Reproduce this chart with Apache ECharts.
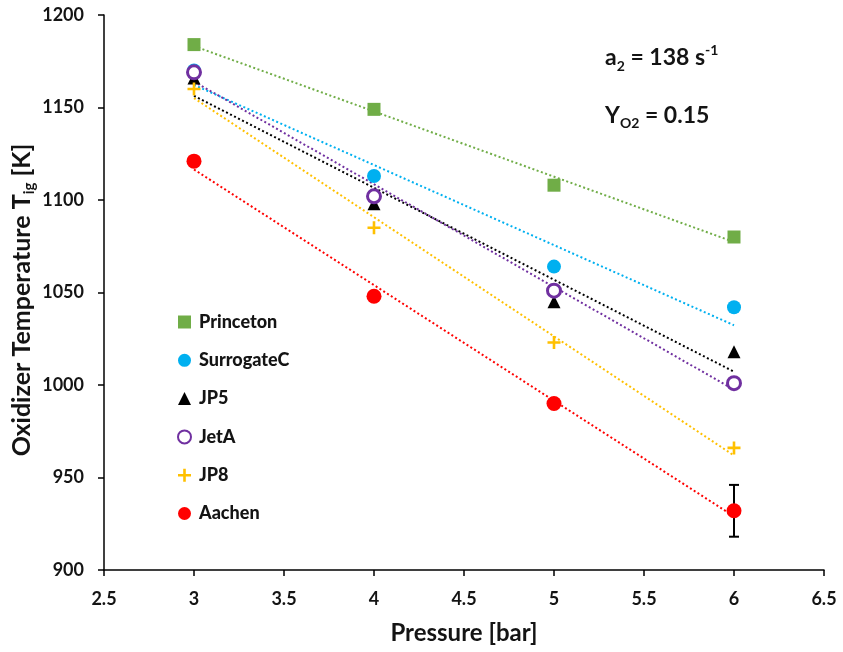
<!DOCTYPE html>
<html><head><meta charset="utf-8">
<script src="https://cdn.jsdelivr.net/npm/echarts@6/dist/echarts.min.js"></script>
<style>html,body{margin:0;padding:0;background:#fff}#c{width:843px;height:652px}</style>
</head><body><div id="c"></div>
<script>
var pressure = [3, 4, 5, 6];
var princeton = [1184, 1149, 1108, 1080];
var surrogateC = [1170, 1113, 1064, 1042];
var jp5 = [1166, 1098, 1045, 1018];
var jetA = [1169, 1102, 1051, 1001];
var jp8 = [1160, 1085, 1023, 966];
var aachen = [1121, 1048, 990, 932];
var aachenErr = [0, 0, 0, 14];
var xTicks = {min: 2.5, max: 6.5, interval: 0.5};
var yTicks = {min: 900, max: 1200, interval: 50};

var FONT = 'Lato, Open Sans, sans-serif';
var TXT = '#141414';
var plusPath = 'path://M4,0H6V4H10V6H6V10H4V6H0V4H4Z';

function fit(ys) {
  var n = pressure.length, mx = 0, my = 0;
  for (var i = 0; i < n; i++) { mx += pressure[i]; my += ys[i]; }
  mx /= n; my /= n;
  var sxy = 0, sxx = 0;
  for (var i = 0; i < n; i++) { sxy += (pressure[i]-mx)*(ys[i]-my); sxx += (pressure[i]-mx)*(pressure[i]-mx); }
  var b = sxy / sxx, a = my - b*mx;
  var x0 = pressure[0], x1 = pressure[n-1];
  return [[x0, a + b*x0], [x1, a + b*x1]];
}
function pts(ys) { return pressure.map(function(x, i){ return [x, ys[i]]; }); }

var defs = [
  {name: 'Princeton', data: princeton, color: '#70AD47', symbol: 'rect', size: 13},
  {name: 'SurrogateC', data: surrogateC, color: '#00B0F0', symbol: 'circle', size: 14},
  {name: 'JP5', data: jp5, color: '#000000', symbol: 'triangle', size: 13},
  {name: 'JetA', data: jetA, color: '#7030A0', symbol: 'circle', size: 13, hollow: true},
  {name: 'JP8', data: jp8, color: '#FFC000', symbol: plusPath, size: 13},
  {name: 'Aachen', data: aachen, color: '#FF0000', symbol: 'circle', size: 15}
];

var series = [];
defs.forEach(function(d){
  series.push({
    type: 'line', data: fit(d.data), symbol: 'none', silent: true, z: 1,
    lineStyle: {color: d.color, width: 2, type: [2, 2.5]}
  });
});
series.push({
  name: 'err', type: 'custom', z: 2,
  data: pressure.map(function(x, i){ return [x, aachen[i], aachenErr[i]]; }).filter(function(r){ return r[2] > 0; }),
  renderItem: function(params, api) {
    var x = api.value(0), y = api.value(1), e = api.value(2);
    var p1 = api.coord([x, y + e]), p2 = api.coord([x, y - e]);
    var st = {stroke: '#000', lineWidth: 2};
    return {type: 'group', children: [
      {type: 'line', shape: {x1: p1[0], y1: p1[1], x2: p2[0], y2: p2[1]}, style: st},
      {type: 'line', shape: {x1: p1[0]-5, y1: p1[1], x2: p1[0]+5, y2: p1[1]}, style: st},
      {type: 'line', shape: {x1: p2[0]-5, y1: p2[1], x2: p2[0]+5, y2: p2[1]}, style: st}
    ]};
  }
});
defs.forEach(function(d){
  var s = {
    name: d.name, type: 'scatter', data: pts(d.data), symbol: d.symbol, symbolSize: d.size, z: 3,
    itemStyle: {color: d.color, opacity: 1}
  };
  if (d.hollow) {
    s.itemStyle = {color: '#fff', borderColor: d.color, borderWidth: 3, opacity: 1};
  }
  series.push(s);
});

var chart = echarts.init(document.getElementById('c'), null, {renderer: 'canvas'});
chart.setOption({
  animation: false,
  backgroundColor: '#fff',
  grid: {left: 104, right: 19, top: 15, bottom: 82, containLabel: false},
  xAxis: {
    type: 'value', min: xTicks.min, max: xTicks.max, interval: xTicks.interval,
    splitLine: {show: false},
    axisLine: {lineStyle: {color: '#000', width: 1.5}},
    axisTick: {length: 6, lineStyle: {color: '#000', width: 1.5}},
    axisLabel: {color: TXT, fontSize: 18, fontWeight: 'bold', fontFamily: FONT, margin: 20},
    name: 'Pressure [bar]', nameLocation: 'middle', nameGap: 51,
    nameTextStyle: {color: TXT, fontSize: 24, fontWeight: 'bold', fontFamily: FONT}
  },
  yAxis: {
    type: 'value', min: yTicks.min, max: yTicks.max, interval: yTicks.interval,
    splitLine: {show: false},
    axisLine: {show: true, lineStyle: {color: '#000', width: 1.5}},
    axisTick: {show: true, length: 6, lineStyle: {color: '#000', width: 1.5}},
    axisLabel: {color: TXT, fontSize: 18, fontWeight: 'bold', fontFamily: FONT, margin: 20,
      formatter: function(v){ return String(v); }}
  },
  legend: {
    orient: 'vertical', left: 172, top: 306, itemGap: 16.3,
    itemWidth: 13, itemHeight: 13,
    data: defs.map(function(d){ return d.name; }),
    textStyle: {color: TXT, fontSize: 18, lineHeight: 22, fontWeight: 900, fontFamily: FONT, padding: [0,0,0,3]}
  },
  graphic: [
    {type: 'text', x: 22, y: 300, rotation: Math.PI / 2, style: {
      text: '{m|Oxidizer Temperature T}{s|ig}{m| [K]}',
      align: 'center', verticalAlign: 'middle', textAlign: 'center', textVerticalAlign: 'middle',
      rich: {
        m: {fontSize: 25, fontWeight: 'bold', fontFamily: FONT, fill: TXT, lineHeight: 30, verticalAlign: 'middle'},
        s: {fontSize: 15, fontWeight: 'bold', fontFamily: FONT, fill: TXT, lineHeight: 15, verticalAlign: 'bottom'}
      }
    }},
    {type: 'text', left: 605, top: 43, style: {
      text: '{m|a}{s|2}{m| = 138 s}{p|-1}',
      rich: {
        m: {fontSize: 23, fontWeight: 'bold', fontFamily: FONT, fill: TXT, lineHeight: 30, verticalAlign: 'middle'},
        s: {fontSize: 14, fontWeight: 'bold', fontFamily: FONT, fill: TXT, lineHeight: 14, verticalAlign: 'bottom'},
        p: {fontSize: 14, fontWeight: 'bold', fontFamily: FONT, fill: TXT, lineHeight: 14, verticalAlign: 'top'}
      }
    }},
    {type: 'text', left: 605, top: 104, style: {
      text: '{m|Y}{s|O2}{m| = 0.15}',
      rich: {
        m: {fontSize: 23, fontWeight: 'bold', fontFamily: FONT, fill: TXT, lineHeight: 30, verticalAlign: 'middle'},
        s: {fontSize: 14, fontWeight: 'bold', fontFamily: FONT, fill: TXT, lineHeight: 14, verticalAlign: 'bottom'}
      }
    }}
  ],
  series: series
});
</script>
</body></html>
